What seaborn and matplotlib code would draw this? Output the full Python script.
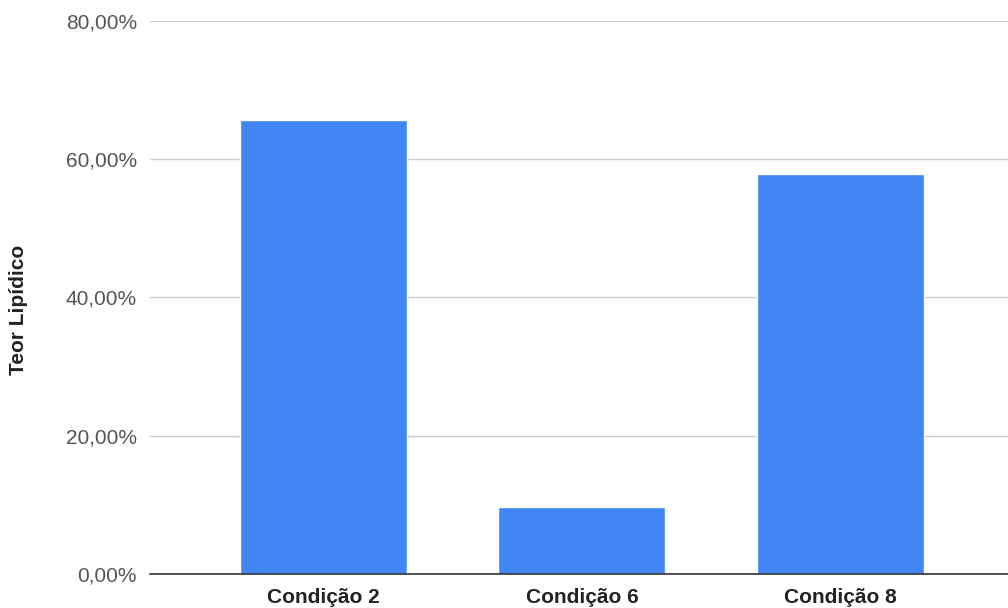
import matplotlib
matplotlib.use("Agg")
import matplotlib.pyplot as plt
import seaborn as sns
import pandas as pd
from matplotlib.ticker import FuncFormatter, MultipleLocator

condicoes = ["Condição 2", "Condição 6", "Condição 8"]
teor = [0.657, 0.097, 0.578]

df = pd.DataFrame({"condicao": condicoes, "teor": teor})

sns.set_style("white")
plt.rcParams['font.family'] = ['Liberation Sans', 'DejaVu Sans']

fig = plt.figure(figsize=(10.08, 6.08), dpi=100)
ax = fig.add_axes([150 / 1008, 34 / 608, 1 - 150 / 1008, 553 / 608])

sns.barplot(data=df, x="condicao", y="teor", color="#4285F4", width=0.646,
            saturation=1, ax=ax, zorder=3)

ax.set_ylim(0, 0.8)
ax.set_xlim(-0.671, 2.648)
ax.yaxis.set_major_locator(MultipleLocator(0.2))
ax.yaxis.set_major_formatter(FuncFormatter(lambda v, p: f"{v * 100:.2f}%".replace(".", ",")))
ax.grid(axis="y", color="#cccccc", linewidth=1, zorder=0)

for s in ["top", "right", "left"]:
    ax.spines[s].set_visible(False)
ax.spines["bottom"].set_color("#333333")
ax.spines["bottom"].set_linewidth(1.2)
ax.spines["bottom"].set_zorder(4)

ax.tick_params(axis="y", length=0, pad=9.5, labelsize=15, labelcolor="#555555")
ax.tick_params(axis="x", length=0, pad=10, labelsize=15, labelcolor="#222222")
for lbl in ax.get_xticklabels():
    lbl.set_fontweight("bold")

ax.set_xlabel("")
ax.set_ylabel("Teor Lipídico", fontsize=15, fontweight="bold", color="#222222")
ax.yaxis.set_label_coords(-122 / 858, 0.477)

fig.savefig("out.png", dpi=100)
